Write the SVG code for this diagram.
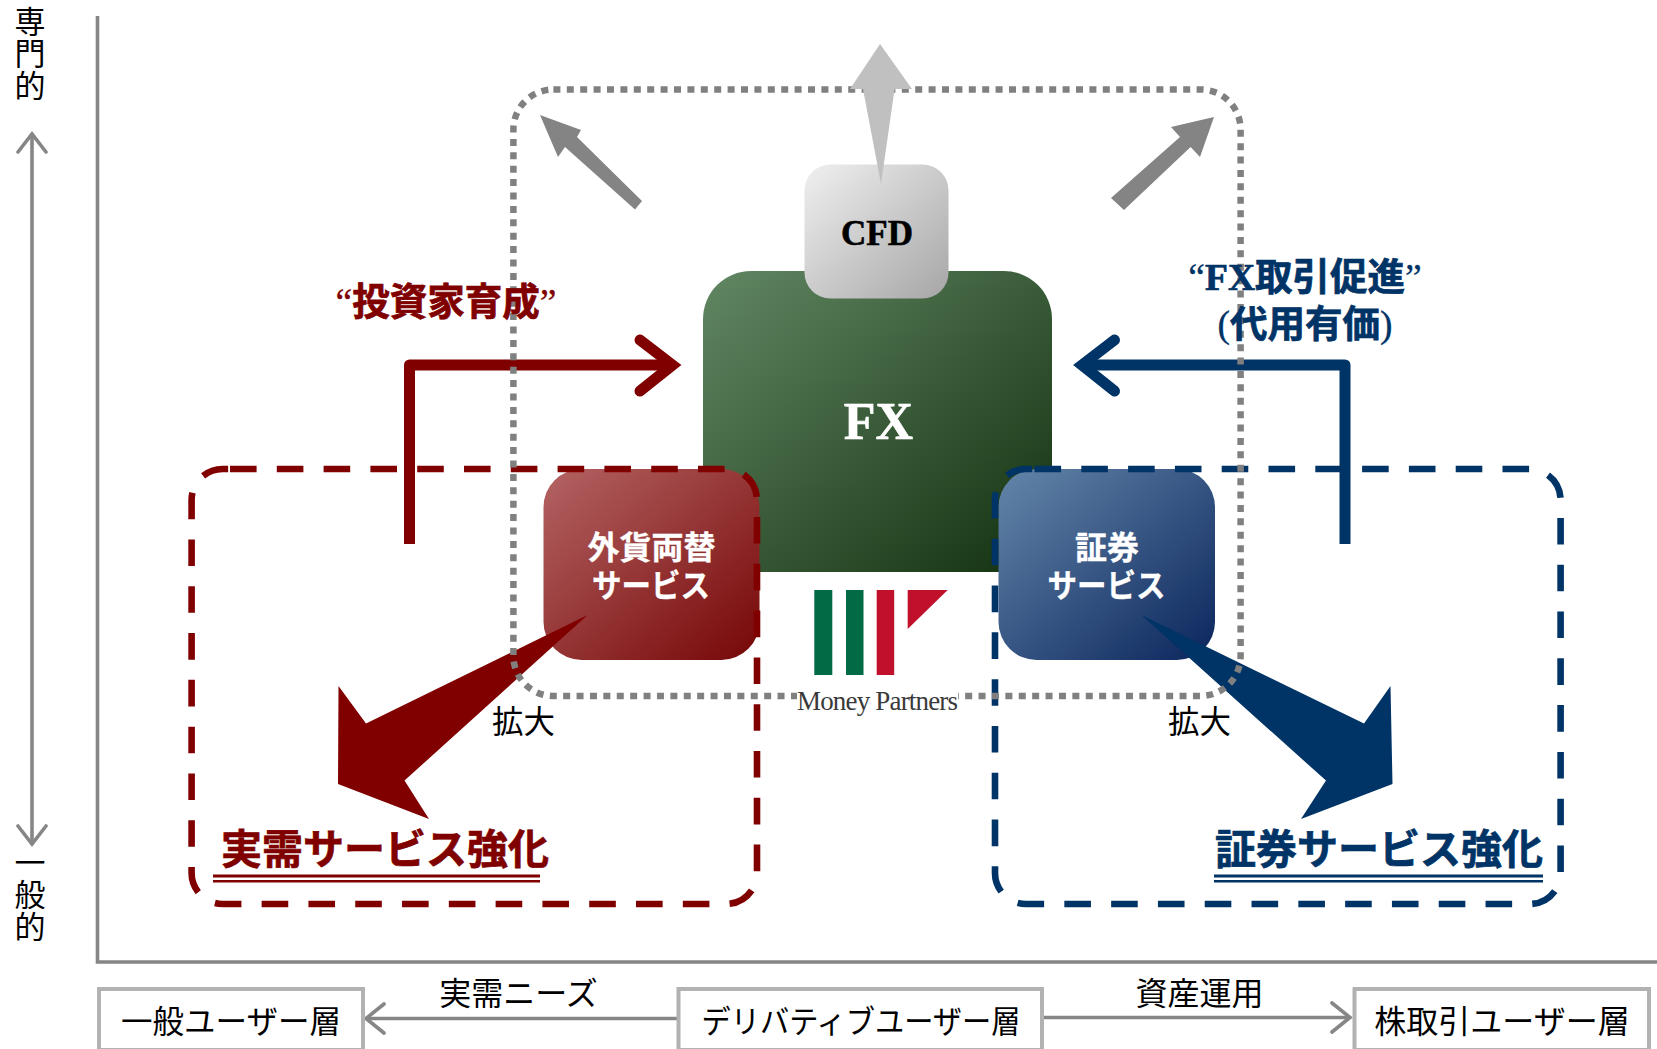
<svg xmlns="http://www.w3.org/2000/svg" width="1657" height="1049" viewBox="0 0 1657 1049">
<style>
text{font-family:"Noto Sans CJK JP","Liberation Sans",sans-serif;text-anchor:middle}
.r{font-size:31.500px;fill:#000}
.v{font-size:31px;fill:#000;writing-mode:vertical-rl;letter-spacing:1px}
.b{font-weight:700;fill:#fff;font-size:32px;stroke:#fff;stroke-width:.3}
.hr{font-weight:700;fill:#800000;stroke:#800000;stroke-width:.7;font-size:37.500px}
.hb{font-weight:700;fill:#003366;stroke:#003366;stroke-width:.7;font-size:37.500px}
.t{font-weight:700;font-size:41px;stroke-width:.7}
.s{font-family:"Liberation Serif",serif;font-weight:700}
.q{font-family:"Liberation Serif",serif;font-weight:400;stroke-width:.3}
.lbox{fill:#fff;stroke:#b2b2b2;stroke-width:4}
.ax{fill:none;stroke:#868686;stroke-width:3.600}
.ah{fill:none;stroke:#868686;stroke-width:3.600;stroke-linecap:round;stroke-linejoin:miter}
.dash{fill:none;stroke-width:6.600;stroke-dasharray:26.600 20.200}
.poly{fill:none;stroke-width:11;stroke-linejoin:round}
.head{fill:none;stroke-width:11;stroke-linecap:round;stroke-linejoin:miter}
</style>
<defs>
<linearGradient id="gG" x1="0" y1="0" x2="1" y2="1"><stop offset="0" stop-color="#628763"/><stop offset="1" stop-color="#12300f"/></linearGradient>
<linearGradient id="gC" x1="0" y1="0" x2="1" y2="1"><stop offset="0" stop-color="#f0f0f0"/><stop offset="1" stop-color="#a6a6a6"/></linearGradient>
<linearGradient id="gR" x1="0" y1="0" x2="1" y2="1"><stop offset="0" stop-color="#b46464"/><stop offset="1" stop-color="#760606"/></linearGradient>
<linearGradient id="gB" x1="0" y1="0" x2="1" y2="1"><stop offset="0" stop-color="#6486aa"/><stop offset="1" stop-color="#0a255c"/></linearGradient>
</defs>

<g id="axes">
<path class="ax" d="M97.500 16V962H1657"/>
<path class="ax" d="M32 135V843"/>
<path class="ah" d="M18 152L32 134L46 152M18 826L32 844L46 826"/>
<text class="v" x="30" y="54">専門的</text>
<text class="v" x="30" y="895">一般的</text>
</g>

<g id="node-fx"><rect x="703" y="271" width="349" height="301" rx="48" fill="url(#gG)"/><text x="878.500" y="439" font-size="52" fill="#fff" stroke="#fff" stroke-width=".6" font-weight="700" style="font-family:'Liberation Serif',serif">FX</text></g>
<g id="node-cfd"><rect x="804.500" y="164.500" width="144" height="134" rx="26" fill="url(#gC)"/><text x="877" y="244.500" font-size="35" fill="#000" stroke="#000" stroke-width=".6" font-weight="700" style="font-family:'Liberation Serif',serif">CFD</text></g>
<g id="node-fxchange"><rect x="543.500" y="469" width="216" height="191" rx="38" fill="url(#gR)"/><text class="b" x="651.500" y="559">外貨両替</text><text class="b" x="651" y="597" textLength="118" lengthAdjust="spacingAndGlyphs">サービス</text></g>
<g id="node-sec"><rect x="998.500" y="469" width="216.500" height="191" rx="38" fill="url(#gB)"/><text class="b" x="1107" y="559">証券</text><text class="b" x="1106.500" y="597" textLength="118" lengthAdjust="spacingAndGlyphs">サービス</text></g>

<g id="region-red"><path class="dash" stroke="#800000" d="M230 469H726A31 31 0 0 1 757 500V873A31 31 0 0 1 726 904H222.600A31 31 0 0 1 191.600 873V500A31 31 0 0 1 222.600 469Z"/></g>
<g id="region-blue"><path class="dash" stroke="#003366" d="M1034.500 469H1529.600A31 31 0 0 1 1560.600 500V873A31 31 0 0 1 1529.600 904H1026A31 31 0 0 1 995 873V500A31 31 0 0 1 1026 469Z"/></g>

<g id="connectors">
<path class="poly" stroke="#800000" d="M409.500 544V365H672"/>
<path class="head" stroke="#800000" d="M640 340L672.500 365L640 391"/>
<path class="poly" stroke="#003366" d="M1345 544V365H1085"/>
<path class="head" stroke="#003366" d="M1114.500 340L1082 365L1114.500 391"/>
<polygon fill="#800000" points="587.600,615 366,723.600 338.500,686 338,784 429,819 404.500,780.600"/>
<polygon fill="#003366" points="1141.500,615 1364,723.600 1390.500,686 1392.500,784 1301,819 1326,780.600"/>
</g>

<g id="region-dotted"><rect x="513.400" y="89.500" width="727.200" height="606.500" rx="40" fill="none" stroke="#808080" stroke-width="6.500" stroke-dasharray="7 6.400"/></g>

<g id="spread-arrows">
<polygon fill="#c0c0c0" points="880,44 912,89 894.600,89 881,184 863,89 850,89"/>
<polygon fill="#848484" points="540,115 581,130 577,137 642,201 635,209.500 565,147 558,157"/>
<polygon fill="#848484" points="1214,117 1200,157 1190.600,147 1124,210 1111,198 1180,137 1171,127"/>
<path class="ax" d="M678 1018.500H368"/>
<path class="ah" d="M384 1004L366 1018.500L384 1033"/>
<path class="ax" d="M1042 1017.500H1348"/>
<path class="ah" d="M1332 1003L1350 1017.500L1332 1032"/>
</g>

<g id="logo">
<rect x="797" y="590" width="161" height="123" fill="#fff"/>
<rect x="814.300" y="590" width="18" height="85" fill="#006b45"/>
<rect x="846" y="590" width="17.500" height="85" fill="#006b45"/>
<rect x="876.700" y="590" width="17.500" height="85" fill="#c0102c"/>
<polygon points="907.700,590 947.700,590 907.700,629" fill="#c0102c"/>
<text x="877.500" y="710" font-size="27" fill="#3a3a3a" textLength="161" style="font-family:'Liberation Serif',serif">Money Partners</text>
</g>

<g id="labels">
<text class="hr" x="446" y="315"><tspan class="q">“</tspan>投資家育成<tspan class="q">”</tspan></text>
<text class="hb" x="1305" y="290"><tspan class="q">“</tspan><tspan class="s">FX</tspan>取引促進<tspan class="q">”</tspan></text>
<text class="hb" x="1305" y="337"><tspan class="q">(</tspan>代用有価<tspan class="q">)</tspan></text>
<text class="r" x="523.500" y="733">拡大</text>
<text class="r" x="1199.500" y="733">拡大</text>
<text class="t" x="385" y="864" fill="#800000" stroke="#800000">実需サービス強化</text>
<rect x="213" y="874.500" width="327" height="3" fill="#800000"/><rect x="213" y="880" width="327" height="2.500" fill="#800000"/>
<text class="t" x="1379" y="864" fill="#003366" stroke="#003366">証券サービス強化</text>
<rect x="1214" y="874.500" width="329" height="3" fill="#003366"/><rect x="1214" y="880" width="329" height="2.500" fill="#003366"/>
<text class="r" x="518.500" y="1005" style="font-size:32px">実需ニーズ</text>
<text class="r" x="1199.500" y="1005" style="font-size:32px">資産運用</text>
</g>

<g id="node-general"><rect class="lbox" x="99" y="989" width="264" height="61"/><text class="r" x="231" y="1033">一般ユーザー層</text></g>
<g id="node-deriv"><rect class="lbox" x="678.500" y="989" width="363.500" height="61"/><text class="r" x="861" y="1033" textLength="319" lengthAdjust="spacingAndGlyphs">デリバティブユーザー層</text></g>
<g id="node-stock"><rect class="lbox" x="1354.500" y="989" width="294.500" height="61"/><text class="r" x="1502" y="1033" style="font-size:32px">株取引ユーザー層</text></g>
</svg>
